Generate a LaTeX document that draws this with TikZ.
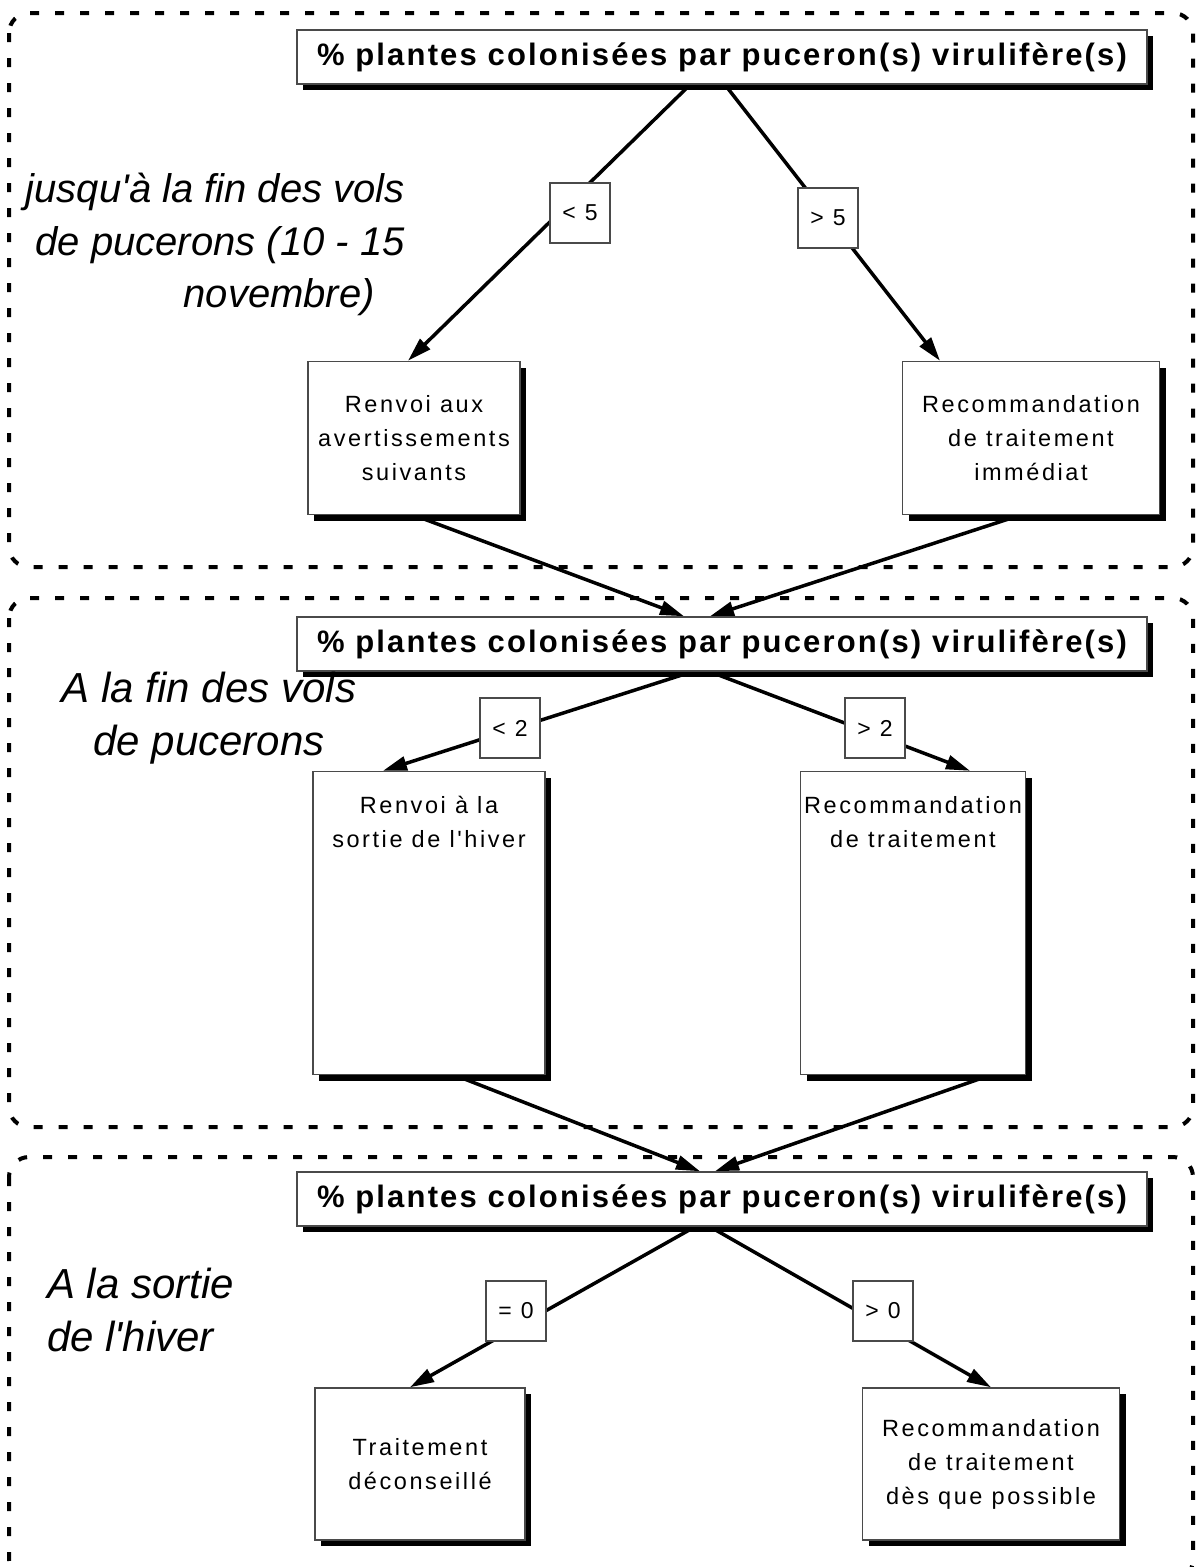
\documentclass[tikz,border=0pt]{standalone}
\usepackage{fontspec}
\setmainfont{Liberation Sans}
\newfontfamily\boxfont[LetterSpace=11]{Liberation Sans}
\newfontfamily\headfont[LetterSpace=7]{Liberation Sans}
\newfontfamily\notefont{Liberation Sans}
\usetikzlibrary{arrows.meta,positioning,shadows,backgrounds}
\definecolor{boxgray}{HTML}{4A4A4A}

\tikzset{
  frame/.style={draw=black,line width=4pt,dash pattern=on 9pt off 16pt,rounded corners=20pt},
  blackshadow/.style={drop shadow={shadow xshift=6pt,shadow yshift=-6pt,fill=black,opacity=1}},
  headbox/.style={draw=boxgray,line width=1.5pt,fill=white,minimum width=850pt,minimum height=54pt,
    inner sep=0pt,blackshadow,font=\headfont\bfseries\fontsize{31}{36}\selectfont},
  outbox/.style={draw=boxgray,line width=1.5pt,fill=white,align=center,inner sep=0pt,
    blackshadow,font=\boxfont\fontsize{23.5}{34}\selectfont},
  cond/.style={draw=boxgray,line width=1.3pt,fill=white,minimum width=60pt,minimum height=60pt,
    inner sep=0pt,font=\boxfont\fontsize{23}{27}\selectfont},
  note/.style={inner sep=0pt,font=\notefont\itshape\fontsize{40}{52.5}\selectfont},
  conn/.style={line width=3.5pt,-{Triangle[length=24pt,width=14pt]}}
}

\begin{document}
\begin{tikzpicture}[x=1pt,y=-1pt]
  \useasboundingbox (0,0) rectangle (1197,1567);

  % niveau 1
  \node[headbox] (h1) at (722,57) {\% plantes colonisées par puceron(s) virulifère(s)};
  \node[cond] (c1) at (580,213) {< 5};
  \node[cond] (c2) at (828,218) {> 5};
  \node[outbox,minimum width=212pt,minimum height=153pt] (r1) at (414,438)
    {Renvoi aux\\avertissements\\suivants};
  \node[outbox,minimum width=257pt,minimum height=153pt] (r2) at (1031,438)
    {Recommandation\\de traitement\\immédiat};
  \node[note,align=right,anchor=north east] (n1) at (405,173)
    {jusqu'à la fin des vols\\de pucerons (10 - 15\\novembre)\hspace*{30pt}};

  % niveau 2
  \node[headbox] (h2) at (722,644) {\% plantes colonisées par puceron(s) virulifère(s)};
  \node[cond] (c3) at (510,728) {< 2};
  \node[cond] (c4) at (875,728) {> 2};
  \node[outbox,minimum width=232pt,minimum height=303pt,text depth=202pt] (r3) at (429,923)
    {Renvoi à la\\sortie de l'hiver};
  \node[outbox,minimum width=225pt,minimum height=303pt,text depth=202pt] (r4) at (913,923)
    {Recommandation\\de traitement};
  \node[note,align=center,anchor=north,font=\notefont\itshape\fontsize{42}{52.5}\selectfont] (n2) at (209,672)
    {A la fin des vols\\de pucerons};

  % niveau 3
  \node[headbox] (h3) at (722,1199) {\% plantes colonisées par puceron(s) virulifère(s)};
  \node[cond] (c5) at (516,1311) {= 0};
  \node[cond] (c6) at (883,1311) {> 0};
  \node[outbox,minimum width=210pt,minimum height=152pt] (r5) at (420,1464)
    {Traitement\\déconseillé};
  \node[outbox,minimum width=257pt,minimum height=152pt] (r6) at (991,1464)
    {Recommandation\\de traitement\\dès que possible};
  \node[note,align=left,anchor=north west,font=\notefont\itshape\fontsize{42}{52.5}\selectfont] (n3) at (47,1268)
    {A la sortie\\de l'hiver};

  \begin{scope}[on background layer]
    \draw[frame] (9,13) rectangle (1193,567);
    \draw[frame] (9,598) rectangle (1193,1127);
    \draw[frame] (9,1157) rectangle (1193,1580);

    \draw[conn] ([xshift=-32pt]h1.south) -- ([xshift=-6pt]r1.north);
    \draw[conn] ([xshift=3pt]h1.south) -- ([xshift=-91pt]r2.north);
    \draw[conn] (r1.south) -- ([xshift=-38pt]h2.north);
    \draw[conn] ([xshift=-11pt]r2.south) -- ([xshift=-12pt]h2.north);

    \draw[conn] ([xshift=-30pt]h2.south) -- ([xshift=-46pt]r3.north);
    \draw[conn] ([xshift=-12pt]h2.south) -- ([xshift=57pt]r4.north);
    \draw[conn] ([xshift=26pt]r3.south) -- ([xshift=-22pt]h3.north);
    \draw[conn] ([xshift=77pt]r4.south) -- ([xshift=-7pt]h3.north);

    \draw[conn] ([xshift=-27pt]h3.south) -- ([xshift=-10pt]r5.north);
    \draw[conn] ([xshift=-12pt]h3.south) -- (r6.north);
  \end{scope}
\end{tikzpicture}
\end{document}
